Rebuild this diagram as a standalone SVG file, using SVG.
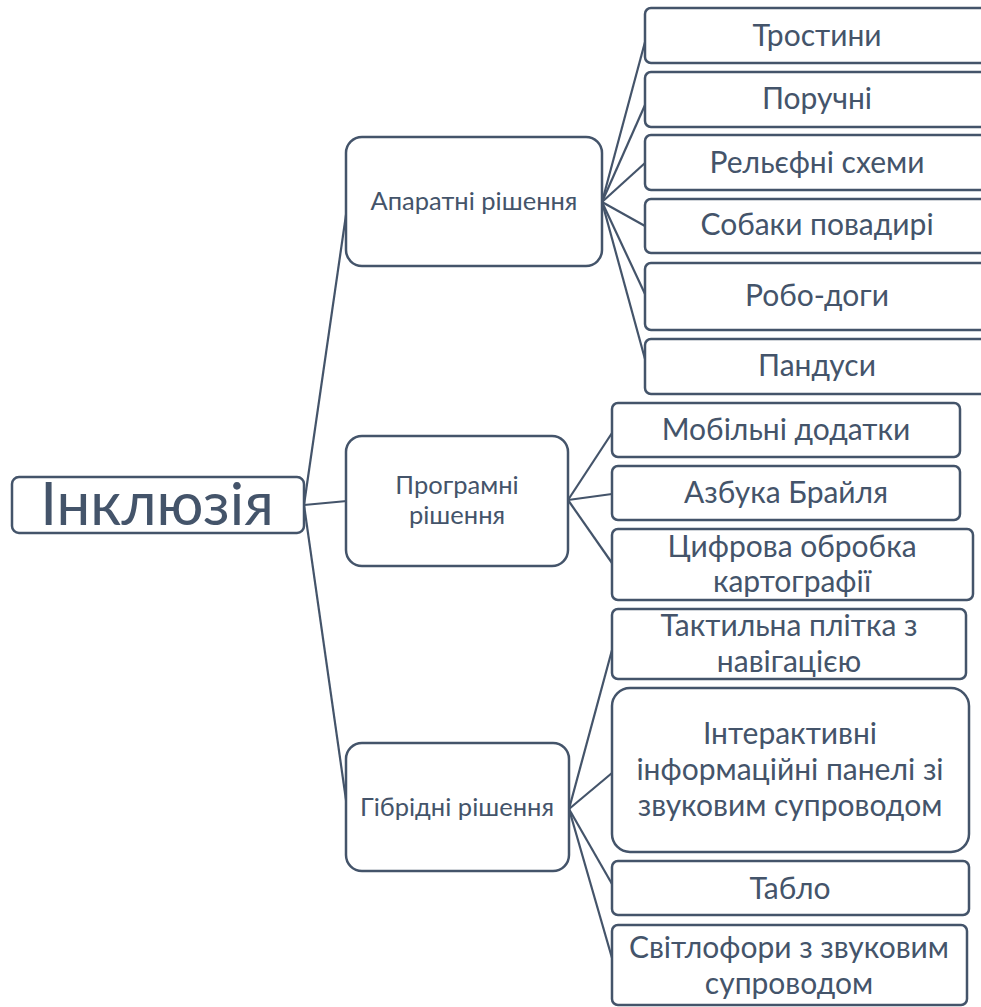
<svg xmlns="http://www.w3.org/2000/svg" width="981" height="1007" viewBox="0 0 981 1007">
<style>
.box{fill:#fff;stroke:#44546a;stroke-width:2.5}
.ln{stroke:#44546a;stroke-width:2.2;fill:none}
text{font-family:Lato,"Open Sans","Noto Sans",sans-serif;fill:#44546a;text-anchor:middle}
.t0{font-size:60px}
.t1{font-size:25.5px}
.t2{font-size:30px}
</style>
<rect width="981" height="1007" fill="#fff"/>
<g id="connectors">
<line class="ln" x1="304" y1="505" x2="347" y2="208"/>
<line class="ln" x1="304" y1="505" x2="347" y2="501"/>
<line class="ln" x1="304" y1="505" x2="347" y2="807"/>
<line class="ln" x1="602" y1="202" x2="645" y2="42"/>
<line class="ln" x1="602" y1="202" x2="645" y2="105"/>
<line class="ln" x1="602" y1="202" x2="645" y2="163"/>
<line class="ln" x1="602" y1="202" x2="645" y2="226"/>
<line class="ln" x1="602" y1="202" x2="645" y2="294"/>
<line class="ln" x1="602" y1="202" x2="645" y2="359"/>
<line class="ln" x1="568" y1="500" x2="612" y2="433"/>
<line class="ln" x1="568" y1="500" x2="612" y2="494"/>
<line class="ln" x1="568" y1="500" x2="612" y2="563"/>
<line class="ln" x1="569" y1="809" x2="612" y2="650"/>
<line class="ln" x1="569" y1="809" x2="612" y2="773"/>
<line class="ln" x1="569" y1="809" x2="612" y2="884"/>
<line class="ln" x1="569" y1="809" x2="612" y2="958"/>
</g>
<g id="root"><rect class="box" x="12" y="477" width="292" height="56" rx="7"/><text class="t0" x="157" y="525">Інклюзія</text></g>
<g id="hw"><rect class="box" x="346" y="137" width="256" height="129" rx="16"/><text class="t1" x="474" y="210">Апаратні рішення</text></g>
<g id="sw"><rect class="box" x="346" y="436" width="222" height="130" rx="16"/><text class="t1" x="457" y="494">Програмні</text><text class="t1" x="457" y="524">рішення</text></g>
<g id="hy"><rect class="box" x="346" y="743" width="223" height="128" rx="16"/><text class="t1" x="457" y="816">Гібрідні рішення</text></g>
<g id="h1"><rect class="box" x="645" y="8" width="345" height="55" rx="6"/><text class="t2" x="817" y="46">Тростини</text></g>
<g id="h2"><rect class="box" x="645" y="72" width="345" height="55" rx="6"/><text class="t2" x="817" y="109">Поручні</text></g>
<g id="h3"><rect class="box" x="645" y="135" width="345" height="55" rx="6"/><text class="t2" x="817" y="173">Рельєфні схеми</text></g>
<g id="h4"><rect class="box" x="645" y="199" width="345" height="54" rx="6"/><text class="t2" x="817" y="235">Собаки повадирі</text></g>
<g id="h5"><rect class="box" x="645" y="263" width="345" height="67" rx="6"/><text class="t2" x="817" y="306">Робо-доги</text></g>
<g id="h6"><rect class="box" x="645" y="339" width="345" height="55" rx="6"/><text class="t2" x="817" y="376">Пандуси</text></g>
<g id="s1"><rect class="box" x="612" y="403" width="348" height="54" rx="6"/><text class="t2" x="786" y="440">Мобільні додатки</text></g>
<g id="s2"><rect class="box" x="612" y="466" width="348" height="54" rx="6"/><text class="t2" x="786" y="503">Азбука Брайля</text></g>
<g id="s3"><rect class="box" x="612" y="529" width="361" height="71" rx="6"/><text class="t2" x="792" y="557">Цифрова обробка</text><text class="t2" x="792" y="592">картографії</text></g>
<g id="y1"><rect class="box" x="612" y="609" width="354" height="70" rx="6"/><text class="t2" x="789" y="636">Тактильна плітка з</text><text class="t2" x="789" y="672">навігацією</text></g>
<g id="y2"><rect class="box" x="612" y="688" width="357" height="164" rx="18"/><text class="t2" x="790" y="744">Інтерактивні</text><text class="t2" x="790" y="780">інформаційні панелі зі</text><text class="t2" x="790" y="816">звуковим супроводом</text></g>
<g id="y3"><rect class="box" x="612" y="861" width="357" height="54" rx="6"/><text class="t2" x="790" y="899">Табло</text></g>
<g id="y4"><rect class="box" x="612" y="925" width="355" height="80" rx="6"/><text class="t2" x="789" y="958">Світлофори з звуковим</text><text class="t2" x="789" y="994">супроводом</text></g>
</svg>
